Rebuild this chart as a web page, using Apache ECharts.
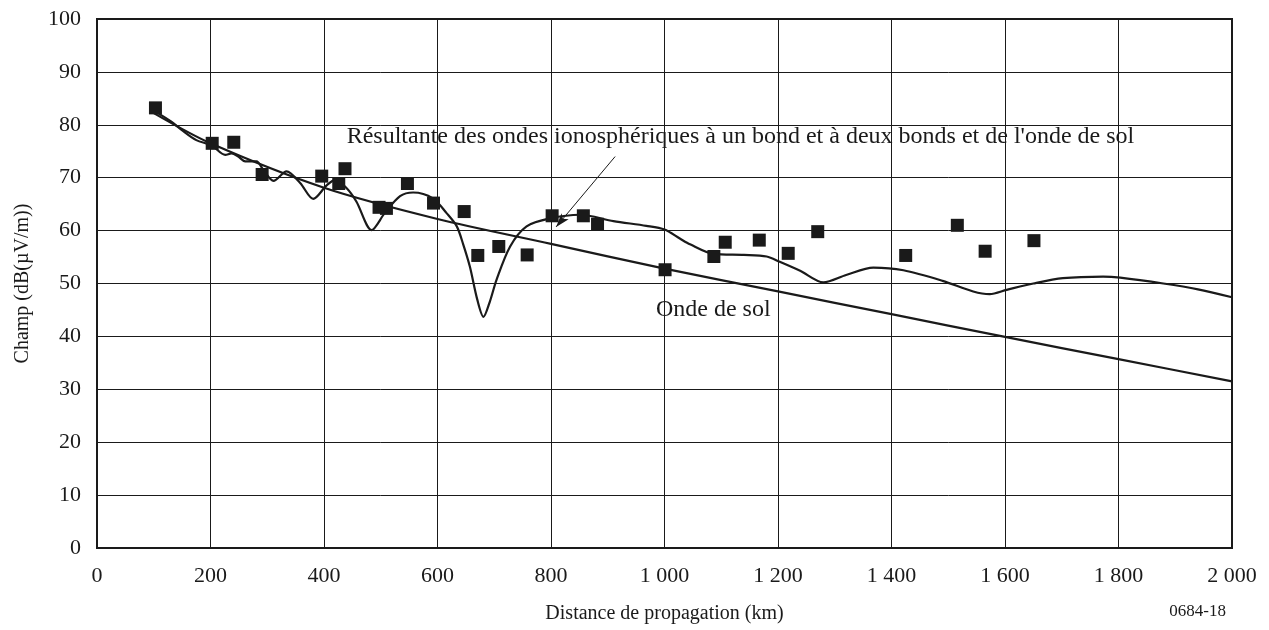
<!DOCTYPE html>
<html>
<head>
<meta charset="utf-8">
<script src="https://cdn.jsdelivr.net/npm/echarts@6/dist/echarts.min.js"></script>
<style>
  html, body { margin: 0; padding: 0; background: #fff; }
  #chart { width: 1269px; height: 630px; }
</style>
</head>
<body>
<div id="chart"></div>
<script>
// measured field strengths (km, dB(uV/m))
const measured = [
  [103, 83.2], [203, 76.5], [241, 76.7], [291, 70.6], [396, 70.3],
  [426, 68.9], [437, 71.7], [497, 64.4], [510, 64.2], [547, 68.9],
  [593, 65.2], [647, 63.6], [671, 55.3], [708, 57.0], [758, 55.4],
  [802, 62.8], [857, 62.8], [882, 61.2], [1001, 52.6], [1087, 55.1],
  [1107, 57.8], [1167, 58.2], [1218, 55.7], [1270, 59.8], [1425, 55.3],
  [1516, 61.0], [1565, 56.1], [1651, 58.1]
];

// ground wave
const groundWave = [
  [100, 82.2], [200, 76.5], [400, 68.1], [600, 62.2], [800, 57.5],
  [1000, 52.8], [1200, 48.5], [1400, 44.2], [1600, 39.9], [1800, 35.7],
  [2000, 31.5]
];

// resultant of one-hop + two-hop sky waves and ground wave
const resultant = [
  [103, 82.5], [131, 80.6], [152, 78.8], [175, 77.1], [202, 76.1],
  [226, 74.3], [237, 74.6], [249, 74.0], [261, 73.1], [281, 73.1],
  [293, 71.5], [311, 69.4], [334, 71.2], [358, 69.0], [381, 66.0],
  [405, 68.6], [420, 69.6], [440, 68.0], [457, 65.5], [484, 60.1],
  [507, 63.3], [534, 66.5], [557, 67.2], [592, 66.1], [616, 63.3],
  [634, 60.8], [645, 57.5], [657, 53.2], [670, 47.0], [681, 43.7],
  [692, 46.5], [704, 50.7], [728, 57.0], [757, 60.8], [798, 62.3],
  [851, 63.0], [910, 61.8], [968, 60.9], [1000, 60.2], [1027, 58.5],
  [1045, 57.4], [1086, 55.6], [1140, 55.4], [1180, 55.1], [1203, 54.1],
  [1239, 52.4], [1280, 50.2], [1320, 51.6], [1368, 53.0], [1421, 52.5],
  [1490, 50.5], [1544, 48.5], [1573, 48.0], [1603, 48.8], [1650, 50.0],
  [1702, 51.0], [1773, 51.3], [1803, 51.1], [1879, 50.0], [1940, 48.9],
  [2000, 47.4]
];

const xTicks = [0, 200, 400, 600, 800, 1000, 1200, 1400, 1600, 1800, 2000];
const yTicks = [0, 10, 20, 30, 40, 50, 60, 70, 80, 90, 100];

const resultantLabel = "Résultante des ondes ionosphériques à un bond et à deux bonds et de l'onde de sol";
const groundLabel = 'Onde de sol';
const arrowFrom = [913, 74];
const arrowTo = [809, 60.7];

const serif = 'Liberation Serif';
const ink = '#1a1a1a';

function fmtKm(v) {
  return String(v).replace(/\B(?=(\d{3})+(?!\d))/g, ' ');
}

const chart = echarts.init(document.getElementById('chart'), null, {
  renderer: 'canvas',
  devicePixelRatio: 1
});

chart.setOption({
  animation: false,
  backgroundColor: '#fff',
  grid: {
    left: 97, right: 37, top: 19, bottom: 82,
    show: true,
    borderColor: ink,
    borderWidth: 2,
    backgroundColor: 'transparent'
  },
  xAxis: {
    type: 'value',
    min: xTicks[0],
    max: xTicks[xTicks.length - 1],
    interval: 200,
    name: 'Distance de propagation (km)',
    nameLocation: 'middle',
    nameGap: 56,
    nameTextStyle: { fontFamily: serif, fontSize: 20, color: ink },
    axisLine: { show: true, lineStyle: { color: ink, width: 2 } },
    axisTick: { show: false },
    axisLabel: {
      margin: 17,
      fontFamily: serif, fontSize: 22, color: ink,
      formatter: fmtKm
    },
    splitLine: { show: true, lineStyle: { color: ink, width: 1 } }
  },
  yAxis: {
    type: 'value',
    min: yTicks[0],
    max: yTicks[yTicks.length - 1],
    interval: 10,
    name: 'Champ (dB(µV/m))',
    nameLocation: 'middle',
    nameGap: 64,
    nameTextStyle: { fontFamily: serif, fontSize: 20, color: ink },
    axisLine: { show: true, lineStyle: { color: ink, width: 2 } },
    axisTick: { show: false },
    axisLabel: { margin: 16, fontFamily: serif, fontSize: 22, color: ink },
    splitLine: { show: true, lineStyle: { color: ink, width: 1 } }
  },
  graphic: [{
    type: 'text',
    right: 43,
    top: 603,
    style: { text: '0684-18', fontFamily: serif, fontSize: 17, fill: ink }
  }],
  series: [
    {
      name: 'Onde de sol',
      type: 'line',
      data: groundWave,
      smooth: 0.3,
      showSymbol: false,
      lineStyle: { color: ink, width: 2.2 },
      markPoint: {
        symbol: 'circle',
        symbolSize: 0,
        data: [{
          coord: [985, 45],
          label: {
            show: true, position: 'right', distance: 0,
            formatter: groundLabel,
            fontFamily: serif, fontSize: 24, color: ink
          }
        }]
      }
    },
    {
      name: 'Résultante',
      type: 'line',
      data: resultant,
      smooth: 0.3,
      showSymbol: false,
      lineStyle: { color: ink, width: 2.2 },
      markPoint: {
        symbol: 'circle',
        symbolSize: 0,
        data: [{
          coord: [440, 77.8],
          label: {
            show: true, position: 'right', distance: 0,
            formatter: resultantLabel,
            fontFamily: serif, fontSize: 24, color: ink
          }
        }]
      },
      markLine: {
        silent: true,
        symbol: ['none', 'arrow'],
        symbolSize: [7, 14],
        lineStyle: { color: ink, width: 1, type: 'solid' },
        label: { show: false },
        data: [[{ coord: arrowFrom }, { coord: arrowTo }]]
      }
    },
    {
      name: 'Mesures',
      type: 'scatter',
      data: measured,
      symbol: 'rect',
      symbolSize: 13,
      itemStyle: { color: ink, opacity: 1 },
      z: 5
    }
  ]
});
</script>
</body>
</html>
